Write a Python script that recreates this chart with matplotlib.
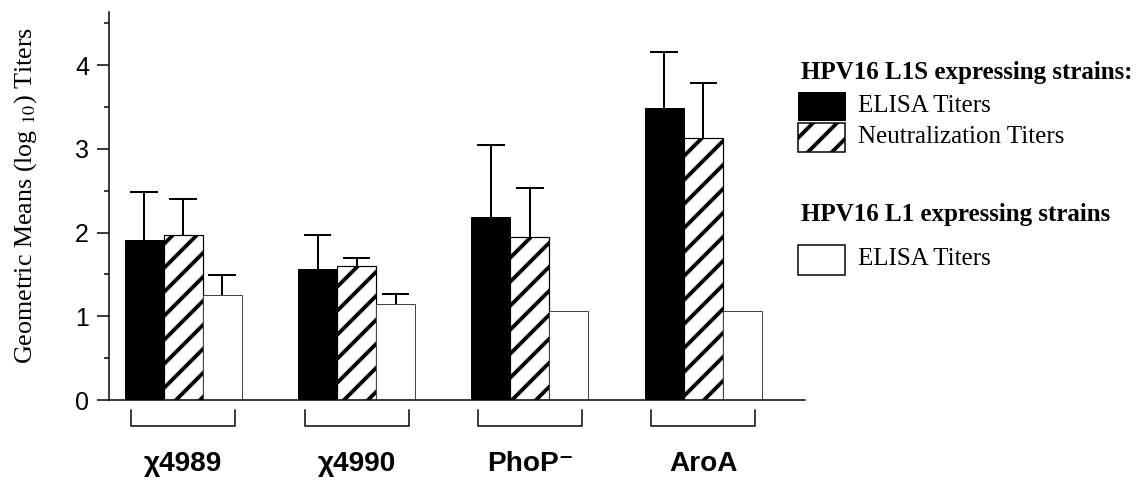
import numpy as np
import matplotlib
matplotlib.use("Agg")
import matplotlib.pyplot as plt
from matplotlib.patches import Rectangle

# --- data ---
categories = ["χ4989", "χ4990", "PhoP⁻", "AroA"]
l1s_elisa = [1.91, 1.56, 2.18, 3.49]
l1s_elisa_err = [0.57, 0.41, 0.86, 0.66]
l1s_neut = [1.97, 1.60, 1.95, 3.13]
l1s_neut_err = [0.43, 0.10, 0.58, 0.66]
l1_elisa = [1.25, 1.15, 1.06, 1.06]
l1_elisa_err = [0.24, 0.12, 0.0, 0.0]

DPI = 72
W, H = 1137, 483
plt.rcParams["hatch.linewidth"] = 3.8
plt.rcParams["mathtext.fontset"] = "stix"

fig = plt.figure(figsize=(W / DPI, H / DPI), dpi=DPI)
ax = fig.add_axes([109 / W, 83 / H, (805 - 109) / W, (400 - 12) / H])

x = np.arange(len(categories))
bw = 0.225

series = [
    (l1s_elisa, l1s_elisa_err, -bw, dict(color="black", edgecolor="black", linewidth=1)),
    (l1s_neut, l1s_neut_err, 0.0, dict(color="white", edgecolor="black", hatch="/", linewidth=1.2)),
    (l1_elisa, l1_elisa_err, bw, dict(color="white", edgecolor="#444444", linewidth=1.0)),
]
for vals, errs, off, style in series:
    ax.bar(x + off, vals, bw, **style, zorder=2)
    for xi, v, e in zip(x + off, vals, errs):
        if e > 0:
            ax.vlines(xi, v, v + e, color="black", lw=2, zorder=3)
            ax.hlines(v + e, xi - 0.08, xi + 0.08, color="black", lw=2, zorder=3)

ax.set_xlim(-0.4276, 3.586)
ax.set_ylim(0, 4.633)
ax.set_yticks([0, 1, 2, 3, 4])
ax.set_yticks(np.arange(0.5, 4.6, 1.0), minor=True)
ax.tick_params(axis="y", which="major", length=12, width=1.5, direction="out",
               labelsize=25, pad=8)
ax.tick_params(axis="y", which="minor", length=5, width=1.5, direction="out")
ax.set_xticks([])
for lab in ax.get_yticklabels():
    lab.set_fontfamily("Liberation Sans")
for s in ["top", "right"]:
    ax.spines[s].set_visible(False)
ax.spines["left"].set_linewidth(1.5)
ax.spines["bottom"].set_linewidth(1.5)

ax.set_ylabel(r"Geometric Means (log $_{10}$) Titers", fontsize=26,
              family="Liberation Serif")
ax.yaxis.set_label_coords(-0.10, 0.528)

# brackets and group labels under the axis
for xi, cat in zip(x, categories):
    ax.plot([xi - 0.30, xi - 0.30, xi + 0.30, xi + 0.30], [-0.12, -0.31, -0.31, -0.12],
            color="black", lw=1.5, clip_on=False)
    ax.text(xi, -0.77, cat, ha="center", va="center", fontsize=28, fontweight="bold",
            family=["Liberation Sans", "DejaVu Sans"])

# legend drawn by hand
def fx(px):
    return px / W

def fy(py):
    return 1 - py / H

serif = "Liberation Serif"
fig.text(fx(801), fy(72), "HPV16 L1S expressing strains:", fontsize=25, fontweight="bold",
         family=serif, va="center")
fig.add_artist(Rectangle((fx(798), fy(120)), fx(47), 28 / H, facecolor="black",
                         edgecolor="black", transform=fig.transFigure))
fig.text(fx(858), fy(106), "ELISA Titers", fontsize=25, family=serif, va="center")
fig.add_artist(Rectangle((fx(798), fy(152)), fx(47), 29 / H, facecolor="white", hatch="/",
                         edgecolor="black", lw=1.5, transform=fig.transFigure))
fig.text(fx(858), fy(137), "Neutralization Titers", fontsize=25, family=serif, va="center")
fig.text(fx(801), fy(214), "HPV16 L1 expressing strains", fontsize=25, fontweight="bold",
         family=serif, va="center")
fig.add_artist(Rectangle((fx(798), fy(275)), fx(47), 30 / H, facecolor="white",
                         edgecolor="black", lw=1.5, transform=fig.transFigure))
fig.text(fx(858), fy(259), "ELISA Titers", fontsize=25, family=serif, va="center")

fig.savefig("out.png", dpi=DPI)
